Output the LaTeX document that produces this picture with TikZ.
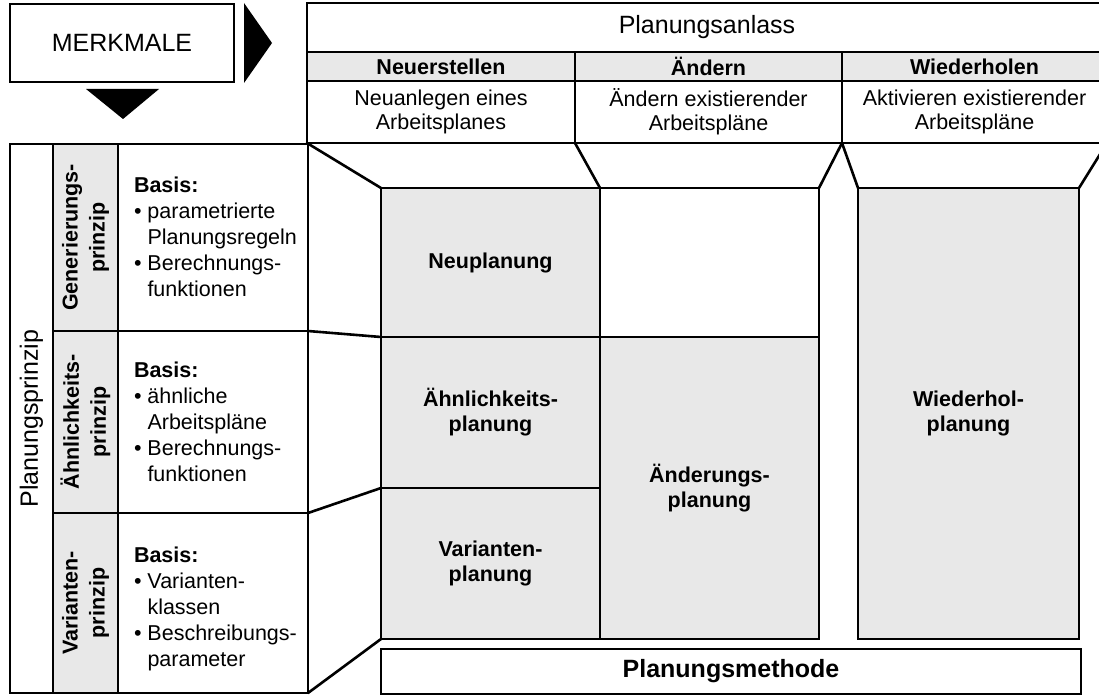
\documentclass[tikz,border=0pt]{standalone}
\usepackage{fontspec}
\setmainfont{Liberation Sans}
\definecolor{cellgray}{HTML}{E8E8E8}
\newcommand{\fsBody}{\fontsize{21.5pt}{25pt}\selectfont}
\newcommand{\fsHead}{\fontsize{25pt}{30pt}\selectfont}
\newcommand{\mybul}{\makebox[13.5pt][l]{\textbullet}}
\begin{document}
\begin{tikzpicture}[x=1pt,y=-1pt,line width=2.6pt,line cap=round,
  cell/.style={draw,rectangle,inner sep=0pt,outer sep=0pt,align=center,font=\fsBody},
  graycell/.style={cell,fill=cellgray},
  boldcell/.style={graycell,font=\fsBody\bfseries},
  rotcell/.style={graycell,rotate=90,font=\fontsize{21.5pt}{27pt}\selectfont\bfseries},
  basis/.style={anchor=west,inner sep=0pt,outer sep=0pt,font=\fontsize{21.5pt}{26pt}\selectfont}]
\useasboundingbox (0,0) rectangle (1099,695);
\clip (0,0) rectangle (1099,695);

% MERKMALE and arrows
\node[cell, minimum width=224pt, minimum height=78pt, font=\fsHead] (merk) at (122,43) {MERKMALE};
\fill (244,3) -- (244,83) -- (272,43) -- cycle;
\fill (86,89) -- (159,89) -- (123,119) -- cycle;

% top table
\node[cell, minimum width=800pt, minimum height=49pt, font=\fsHead] (anlass) at (707,27.5) {Planungsanlass};
\node[boldcell, minimum width=268pt, minimum height=29pt] (h1) at (441,66.5) {Neuerstellen};
\node[boldcell, minimum width=267pt, minimum height=29pt] (h2) at (708.5,66.5) {Ändern};
\node[boldcell, minimum width=265pt, minimum height=29pt] (h3) at (974.5,66.5) {Wiederholen};
\node[cell, minimum width=268pt, minimum height=62pt, font=\fontsize{21.5pt}{24pt}\selectfont] (d1) at (441,112) {Neuanlegen eines\\Arbeitsplanes};
\node[cell, minimum width=267pt, minimum height=62pt, font=\fontsize{21.5pt}{24pt}\selectfont] (d2) at (708.5,112) {Ändern existierender\\Arbeitspläne};
\node[cell, minimum width=265pt, minimum height=62pt, font=\fontsize{21.5pt}{24pt}\selectfont] (d3) at (974.5,112) {Aktivieren existierender\\Arbeitspläne};

% left block
\node[cell, rotate=90, minimum width=549pt, minimum height=43pt, font=\fsHead] (pp) at (31.5,418.5) {Planungsprinzip};
\node[rotcell, minimum width=187pt, minimum height=65pt] (g1) at (85.5,237.5) {Generierungs-\\prinzip};
\node[rotcell, minimum width=182pt, minimum height=65pt] (g2) at (85.5,422) {Ähnlichkeits-\\prinzip};
\node[rotcell, minimum width=180pt, minimum height=65pt] (g3) at (85.5,603) {Varianten-\\prinzip};
\node[cell, minimum width=190pt, minimum height=187pt] (t1) at (213,237.5) {};
\node[cell, minimum width=190pt, minimum height=182pt] (t2) at (213,422) {};
\node[cell, minimum width=190pt, minimum height=180pt] (t3) at (213,603) {};
\node[basis] (b1) at ([xshift=16pt,yshift=-2pt]t1.west) {\begin{tabular}{@{}l@{}l@{}}\multicolumn{2}{@{}l@{}}{\bfseries Basis:}\\ \mybul & parametrierte\\ & Planungsregeln\\ \mybul & Berechnungs-\\ & funktionen\end{tabular}};
\node[basis] (b2) at ([xshift=16pt,yshift=-2pt]t2.west) {\begin{tabular}{@{}l@{}l@{}}\multicolumn{2}{@{}l@{}}{\bfseries Basis:}\\ \mybul & ähnliche\\ & Arbeitspläne\\ \mybul & Berechnungs-\\ & funktionen\end{tabular}};
\node[basis] (b3) at ([xshift=16pt,yshift=-6pt]t3.west) {\begin{tabular}{@{}l@{}l@{}}\multicolumn{2}{@{}l@{}}{\bfseries Basis:}\\ \mybul & Varianten-\\ & klassen\\ \mybul & Beschreibungs-\\ & parameter\end{tabular}};

% middle boxes
\node[boldcell, minimum width=219pt, minimum height=149pt] (neu) at (490.5,262.5) {Neuplanung};
\node[cell, minimum width=219pt, minimum height=149pt] (leer) at (709.5,262.5) {};
\node[boldcell, minimum width=219pt, minimum height=151pt] (aehn) at (490.5,412.5) {Ähnlichkeits-\\planung};
\node[boldcell, minimum width=219pt, minimum height=151pt] (var) at (490.5,563.5) {Varianten-\\planung};
\node[boldcell, minimum width=219pt, minimum height=302pt] (aend) at (709.5,488) {Änderungs-\\planung};
\node[boldcell, minimum width=221pt, minimum height=451pt] (wied) at (968.5,413.5) {Wiederhol-\\planung};
\node[cell, minimum width=700pt, minimum height=45pt, font=\fsHead\bfseries] (meth) at (731,671.5) {Planungsmethode};

% funnel connectors
\draw (d1.south west) -- (neu.north west);
\draw (d1.south east) -- (neu.north east);
\draw (d2.south east) -- (leer.north east);
\draw (d3.south west) -- (wied.north west);
\draw (d3.south east) -- (wied.north east);
\draw (t1.south east) -- (neu.south west);
\draw (t2.south east) -- (var.north west);
\draw (t3.south east) -- (var.south west);
\end{tikzpicture}
\end{document}
